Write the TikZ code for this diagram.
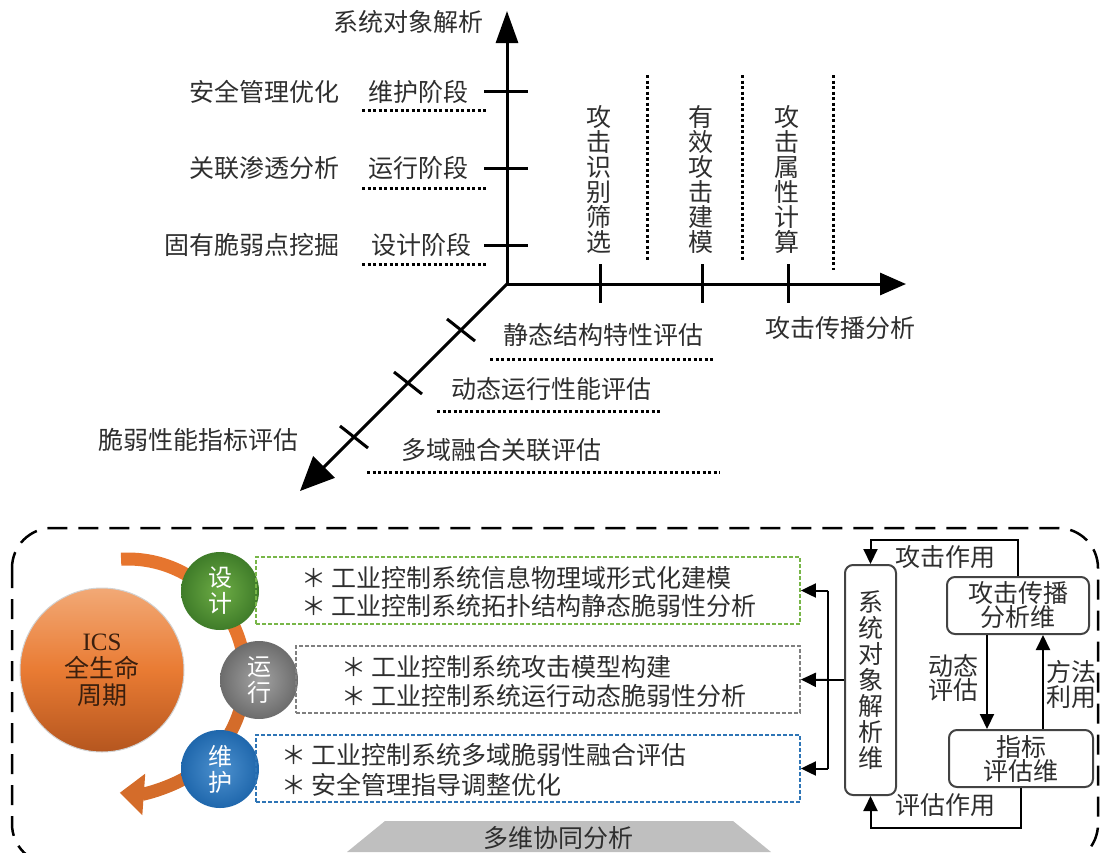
\documentclass[tikz,border=0pt]{standalone}
\usepackage{fontspec}
\setmainfont{Noto Sans CJK SC}
\newfontfamily\latinserif{Liberation Serif}
\usetikzlibrary{arrows.meta,calc}
\definecolor{ink}{HTML}{2E2E2E}
\definecolor{arcorange}{HTML}{E6752E}
\definecolor{lifetop}{HTML}{F2A976}
\definecolor{lifemid}{HTML}{E97B33}
\definecolor{lifebot}{HTML}{B5561F}
\definecolor{lifetext}{HTML}{3A1F0E}
\definecolor{greenin}{HTML}{6DAC45}
\definecolor{greenout}{HTML}{3F7C29}
\definecolor{grayin}{HTML}{A3A3A3}
\definecolor{grayout}{HTML}{6C6C6C}
\definecolor{bluein}{HTML}{4D91CF}
\definecolor{blueout}{HTML}{1F67AC}
\definecolor{taskgreen}{HTML}{78B648}
\definecolor{taskgray}{HTML}{7F7F7F}
\definecolor{taskblue}{HTML}{2E75B6}
\definecolor{band}{HTML}{BFBFBF}
\begin{document}
\begin{tikzpicture}[x=1pt,y=-1pt,
  txt/.style={text=ink, inner sep=0pt, font=\fontsize{25}{27}\selectfont},
  vtxt/.style={txt, align=center, font=\fontsize{25}{25}\selectfont},
  axis/.style={line width=3pt, draw=black},
  tickmark/.style={line width=3pt, draw=black},
  guide/.style={line width=3pt, draw=black, dash pattern=on 3pt off 2.5pt},
  stage/.style={circle, minimum size=78pt, inner sep=0pt, text=white, align=center,
    font=\fontsize{24}{26}\selectfont},
  task/.style={line width=1.8pt, dash pattern=on 4pt off 2pt, minimum width=544pt,
    minimum height=67pt, inner sep=0pt},
  dimbox/.style={draw=ink!90, line width=2pt, rounded corners=8pt, align=center, txt,
    font=\fontsize{25}{24}\selectfont},
  link/.style={line width=2pt, draw=black, -{Triangle[length=15pt,width=14pt]}},
]
\useasboundingbox (0,0) rectangle (1103,852);
\clip (0,0) rectangle (1103,852);

% ---------------- three analysis dimensions ----------------
\coordinate (O) at (507,284);
\coordinate (Ytip) at (507,11);
\coordinate (Xtip) at (906,284);
\coordinate (Ztip) at (300,491);

\draw[axis, -{Triangle[length=32pt,width=22pt]}] (O) -- (Ytip);
\draw[axis, -{Triangle[length=26pt,width=22pt]}] (O) -- (Xtip);
\draw[axis, -{Triangle[length=34pt,width=30pt]}] (O) -- (Ztip);

\node[txt, anchor=east] (ylab) at (484,22) {系统对象解析};
\node[txt] (xlab) at (840,328) {攻击传播分析};
\node[txt] (zlab) at (198,440) {脆弱性能指标评估};

% vertical axis: life-cycle stages
\foreach \yy in {91,168,245} \draw[tickmark] (484,\yy) -- (528,\yy);
\node[txt] (st3) at (418,92) {维护阶段};
\node[txt] (st2) at (418,168) {运行阶段};
\node[txt] (st1) at (421,245) {设计阶段};
\node[txt, anchor=east] (ob3) at (340,92) {安全管理优化};
\node[txt, anchor=east] (ob2) at (340,168) {关联渗透分析};
\node[txt, anchor=east] (ob1) at (340,245) {固有脆弱点挖掘};
\draw[guide] (362,110) -- (486,110);
\draw[guide] (362,188) -- (486,188);
\draw[guide] (362,264) -- (486,264);

% horizontal axis: attack propagation steps
\foreach \xx in {600,702,788} \draw[tickmark] (\xx,264) -- (\xx,303);
\node[vtxt] (ap1) at (599,179) {攻\\击\\识\\别\\筛\\选};
\node[vtxt] (ap2) at (701,179) {有\\效\\攻\\击\\建\\模};
\node[vtxt] (ap3) at (787,179) {攻\\击\\属\\性\\计\\算};
\draw[guide] (647,75) -- (647,260);
\draw[guide] (742,75) -- (742,260);
\draw[guide] (833,75) -- (833,270);

% diagonal axis: evaluation levels
\foreach \cx/\cy in {461/330,408/383,354/437}
  \draw[tickmark] (\cx-14,\cy-11) -- (\cx+14,\cy+11);
\node[txt] (ev1) at (603,335) {静态结构特性评估};
\node[txt] (ev2) at (551,389) {动态运行性能评估};
\node[txt] (ev3) at (501,450) {多域融合关联评估};
\draw[guide] (490,359) -- (713,359);
\draw[guide] (437,411) -- (662,411);
\draw[guide] (367,472) -- (720,472);

% ---------------- multi-dimensional collaboration ----------------
\draw[line width=2.5pt, dash pattern=on 20pt off 11pt, rounded corners=40pt]
  (12,528) rectangle (1098,864);

% life-cycle loop
\draw[line width=13pt, arcorange]
  ([shift={(-93.4:117)}]128,676) arc[start angle=-93.4, end angle=0, radius=117];
\draw[line width=13pt, arcorange!92!black, -{Triangle[length=24pt,width=40pt]}]
  ([shift={(0:117)}]128,676) arc[start angle=0, end angle=94, radius=117];

\node[circle, minimum size=164pt, inner sep=0pt, top color=lifetop, bottom color=lifebot,
  middle color=lifemid, draw=gray!35, line width=1pt, align=center, text=lifetext,
  font=\fontsize{25}{27}\selectfont] (life) at (102,670)
  {{\latinserif ICS}\\全生命\\周期};

\node[stage, inner color=greenin, outer color=greenout] (design) at (220,591) {设\\计};
\node[stage, inner color=grayin, outer color=grayout] (run) at (259,680) {运\\行};
\node[stage, inner color=bluein, outer color=blueout] (keep) at (220,769) {维\\护};

% stage tasks
\node[task, draw=taskgreen] (gbox) at (528,590.5) {};
\node[task, draw=taskgray, minimum width=504pt] (rbox) at (548,679.5) {};
\node[task, draw=taskblue] (bbox) at (528,768.5) {};
\node[txt, anchor=west, align=left, font=\fontsize{25}{28}\selectfont] (gtext) at (301,592)
  {＊ 工业控制系统信息物理域形式化建模\\＊ 工业控制系统拓扑结构静态脆弱性分析};
\node[txt, anchor=west, align=left, font=\fontsize{25}{29}\selectfont] (rtext) at (341,681)
  {＊ 工业控制系统攻击模型构建\\＊ 工业控制系统运行动态脆弱性分析};
\node[txt, anchor=west, align=left, font=\fontsize{25}{30}\selectfont] (btext) at (281,770)
  {＊ 工业控制系统多域脆弱性融合评估\\＊ 安全管理指导调整优化};

% analysis dimensions
\node[dimbox, minimum width=51pt, minimum height=230pt, font=\fontsize{25}{26}\selectfont]
  (sys) at (870.5,680) {系\\统\\对\\象\\解\\析\\维};
\node[dimbox, minimum width=142pt, minimum height=57pt] (atk) at (1018,605.5) {攻击传播\\分析维};
\node[dimbox, minimum width=144pt, minimum height=57pt] (idx) at (1021,758.5) {指标\\评估维};

\coordinate (bus) at (828,680);
\coordinate (dynx) at (987,0);
\coordinate (metx) at (1043,0);
\coordinate (topturn) at (0,540);
\coordinate (botturn) at (0,828);

\draw[line width=2pt] (sys.west) -- (bus);
\draw[line width=2pt] (bus |- gbox.east) -- (bus |- bbox.east);
\draw[link] (bus |- gbox.east) -- (gbox.east);
\draw[link] (bus) -- (rbox.east);
\draw[link] (bus |- bbox.east) -- (bbox.east);

\draw[link] (atk.south -| dynx) -- (idx.north -| dynx);
\draw[link] (idx.north -| metx) -- (atk.south -| metx);
\draw[link] (atk.north) -- (atk.north |- topturn) -- (sys.north |- topturn) -- (sys.north);
\draw[link] (idx.south) -- (idx.south |- botturn) -- (sys.south |- botturn) -- (sys.south);

\node[txt] (atkuse) at (945,557) {攻击作用};
\node[txt] (evaluse) at (945,805) {评估作用};
\node[txt, align=center, font=\fontsize{25}{24}\selectfont] (dyneval) at (953,678) {动态\\评估};
\node[txt, align=center, font=\fontsize{25}{25}\selectfont] (metuse) at (1071,684) {方法\\利用};

% collaboration band
\fill[band] (385,821) -- (733,821) -- (771,852) -- (347,852) -- cycle;
\node[txt] (collab) at (558,838) {多维协同分析};
\end{tikzpicture}
\end{document}
